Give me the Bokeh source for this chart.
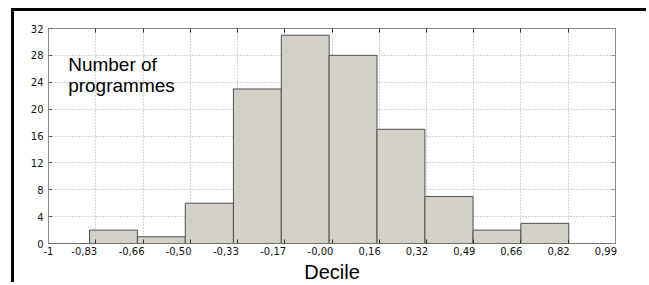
from bokeh.plotting import figure
from bokeh.models import (Range1d, FixedTicker, LinearAxis, Label,
                          InlineStyleSheet, CustomJSTickFormatter)
from bokeh.embed import file_html
from bokeh.resources import INLINE

# ---- data ----
bin_left = [-0.856, -0.688, -0.520, -0.351, -0.183, -0.015, 0.153, 0.321, 0.490, 0.658]
bin_right = [-0.688, -0.520, -0.351, -0.183, -0.015, 0.153, 0.321, 0.490, 0.658, 0.826]
counts = [2, 1, 6, 23, 31, 28, 17, 7, 2, 3]

x_ticks = [-1.0, -0.834, -0.668, -0.503, -0.337, -0.171, -0.005, 0.161, 0.327, 0.493, 0.658, 0.824, 0.99]
x_tick_labels = ["-1", "-0,83", "-0,66", "-0,50", "-0,33", "-0,17", "-0,00",
                 "0,16", "0,32", "0,49", "0,66", "0,82", "0,99"]
y_ticks = [0, 4, 8, 12, 16, 20, 24, 28, 32]

TICK_FONT = "DejaVu Sans"
MAIN_FONT = "Liberation Sans"

X0, X1 = -1, 0.99
FRAME_W = 566.0                      # frame width in px
PX = (X1 - X0) / FRAME_W             # data units per pixel
# labels in the reference sit roughly right-aligned on their tick: shift centred labels left
label_shift_px = {2: 0.0, 4: 9.6, 5: 11.5}
label_pos = [t - label_shift_px[len(s)] * PX for t, s in zip(x_ticks, x_tick_labels)]

p = figure(width=635, height=274, output_backend="svg", toolbar_location=None,
           x_range=Range1d(X0, X1), y_range=Range1d(0, 32),
           min_border_left=34, min_border_right=34, min_border_top=17,
           min_border_bottom=42, background_fill_color="white",
           border_fill_color="white")
p.stylesheets = [InlineStyleSheet(css=":host { margin-top: 8px; margin-left: 11px; border-top: 3px solid black; border-left: 3px solid black; }")]

p.outline_line_color = "#8a8a8a"
p.outline_line_width = 1

# grids
p.xgrid.ticker = FixedTicker(ticks=x_ticks)
p.ygrid.ticker = FixedTicker(ticks=y_ticks)
for g in (p.xgrid, p.ygrid):
    g.grid_line_color = "#a8a8a8"
    g.grid_line_dash = "1 2"
    g.grid_line_width = 1

# bars
p.quad(left=bin_left, right=bin_right, bottom=0, top=counts,
       fill_color="#d4d0c8", line_color="#505050", line_width=1)

blank = CustomJSTickFormatter(code="return ''")

# bottom axis 1: inward ticks only
xa = p.xaxis[0]
xa.ticker = FixedTicker(ticks=x_ticks)
xa.formatter = blank
xa.major_label_text_font_size = "1px"
xa.major_label_standoff = 0
xa.major_tick_in = 4
xa.major_tick_out = 0
xa.minor_tick_line_color = None
xa.axis_line_color = "#707070"
xa.major_tick_line_color = "#303030"

# bottom axis 2: tick labels + axis title
label_formatter = CustomJSTickFormatter(
    args=dict(labels=x_tick_labels, pos=label_pos),
    code="""
    let best = 0, d = Infinity;
    for (let i = 0; i < pos.length; i++) {
        const di = Math.abs(pos[i] - tick);
        if (di < d) { d = di; best = i; }
    }
    return labels[best];
    """)
lab_axis = LinearAxis(ticker=FixedTicker(ticks=label_pos),
                      formatter=label_formatter,
                      major_tick_line_color=None, minor_tick_line_color=None,
                      axis_line_color=None, major_tick_in=0, major_tick_out=0,
                      major_label_standoff=3,
                      major_label_text_font=TICK_FONT,
                      major_label_text_font_size="10px",
                      major_label_text_color="#111111",
                      axis_label="Decile", axis_label_text_font=MAIN_FONT,
                      axis_label_text_font_size="20px",
                      axis_label_text_font_style="normal",
                      axis_label_text_color="black", axis_label_standoff=3)
p.add_layout(lab_axis, "below")

ya = p.yaxis[0]
ya.ticker = FixedTicker(ticks=y_ticks)
ya.major_tick_in = 4
ya.major_tick_out = 0
ya.minor_tick_line_color = None
ya.axis_line_color = "#8a8a8a"
ya.major_tick_line_color = "#606060"
ya.major_label_text_font = TICK_FONT
ya.major_label_text_font_size = "10px"
ya.major_label_text_color = "#111111"
ya.major_label_standoff = 5

# top/right tick-only axes
top = LinearAxis(ticker=FixedTicker(ticks=x_ticks), formatter=blank,
                 major_label_text_font_size="1px",
                 major_label_standoff=0, major_tick_in=4, major_tick_out=0,
                 minor_tick_line_color=None, axis_line_color="#8a8a8a",
                 major_tick_line_color="#303030")
right = LinearAxis(ticker=FixedTicker(ticks=y_ticks), formatter=blank,
                   major_label_text_font_size="1px",
                   major_label_standoff=0, major_tick_in=4, major_tick_out=0,
                   minor_tick_line_color=None, axis_line_color="#8a8a8a",
                   major_tick_line_color="#909090")
p.add_layout(top, "above")
p.add_layout(right, "right")

# in-plot text
p.add_layout(Label(x=-0.931, y=26.68, text="Number of", text_font=MAIN_FONT,
                   text_font_size="19px", text_baseline="alphabetic", text_color="black"))
p.add_layout(Label(x=-0.931, y=23.55, text="programmes", text_font=MAIN_FONT,
                   text_font_size="19px", text_baseline="alphabetic", text_color="black"))

open("out.html", "w").write(file_html(p, INLINE))
